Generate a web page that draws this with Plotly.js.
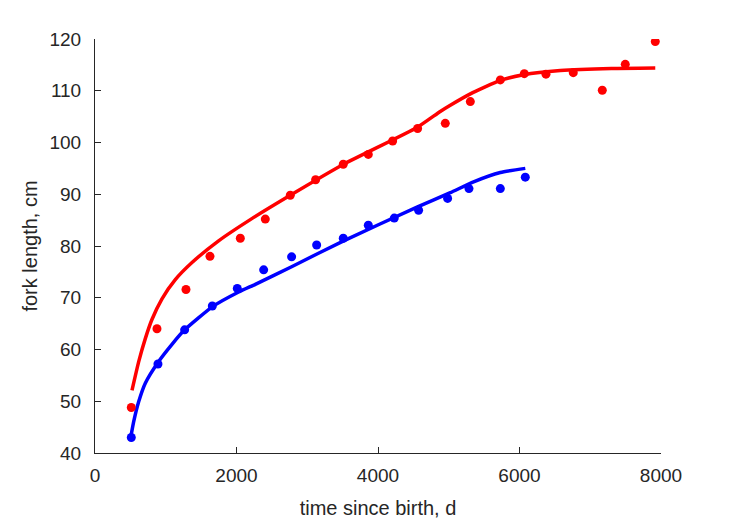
<!DOCTYPE html>
<html>
<head>
<meta charset="utf-8">
<script src="https://cdn.plot.ly/plotly-3.0.1.min.js"></script>
<style>html,body{margin:0;padding:0;background:#fff;}#chart{width:729px;height:521px;}</style>
</head>
<body>
<div id="chart"></div>
<script>
// Observed data (red series)
var redObsX = [513, 876, 1286, 1625, 2054, 2407, 2760, 3118, 3509, 3863, 4207, 4560, 4951, 5305, 5729, 6068, 6374, 6760, 7170, 7495, 7919];
var redObsY = [48.8, 64.0, 71.6, 78.0, 81.5, 85.2, 89.8, 92.8, 95.8, 97.7, 100.3, 102.7, 103.7, 107.9, 112.1, 113.3, 113.2, 113.5, 110.1, 115.1, 119.5];
// Observed data (blue series)
var blueObsX = [513, 890, 1267, 1658, 2011, 2384, 2779, 3133, 3509, 3863, 4230, 4574, 4984, 5286, 5729, 6082];
var blueObsY = [43.0, 57.2, 63.8, 68.4, 71.8, 75.4, 77.9, 80.2, 81.5, 84.0, 85.4, 86.9, 89.2, 91.1, 91.1, 93.3];
// Fitted curves
var redFitX = [523, 617, 711, 805, 947, 1135, 1371, 1747, 2195, 2760, 3514, 4551, 4880, 5022, 5305, 5729, 6058, 6577, 7300, 7919];
var redFitY = [52.1, 57.6, 62.1, 65.8, 69.8, 73.5, 76.8, 81.0, 85.1, 89.8, 95.8, 102.9, 106.0, 107.2, 109.4, 112.0, 113.1, 113.9, 114.3, 114.4];
var blueFitX = [513, 546, 617, 711, 890, 1088, 1267, 1653, 2030, 2266, 2779, 3514, 4551, 5022, 5351, 5729, 6082];
var blueFitY = [43.6, 46.0, 49.9, 53.5, 57.5, 61.0, 63.8, 68.2, 71.1, 72.6, 76.0, 81.0, 87.5, 90.3, 92.4, 94.2, 95.0];

var textColor = '#262626';
var traces = [
  {x: redFitX, y: redFitY, type: 'scatter', mode: 'lines', line: {color: '#ff0000', width: 3.5, shape: 'spline', smoothing: 0.5}, hoverinfo: 'skip'},
  {x: blueFitX, y: blueFitY, type: 'scatter', mode: 'lines', line: {color: '#0000ff', width: 3.5, shape: 'spline', smoothing: 0.5}, hoverinfo: 'skip'},
  {x: redObsX, y: redObsY, type: 'scatter', mode: 'markers', marker: {color: '#ff0000', size: 9}},
  {x: blueObsX, y: blueObsY, type: 'scatter', mode: 'markers', marker: {color: '#0000ff', size: 9}}
];
var layout = {
  width: 729, height: 521,
  margin: {l: 95, r: 68, t: 39, b: 68},
  paper_bgcolor: '#ffffff', plot_bgcolor: '#ffffff',
  showlegend: false,
  font: {family: 'Arial, Liberation Sans, sans-serif', color: textColor},
  xaxis: {
    range: [0, 8000], tickvals: [0, 2000, 4000, 6000, 8000],
    ticks: 'inside', ticklen: 6, tickcolor: textColor, tickwidth: 1,
    showline: true, linecolor: textColor, linewidth: 1, showgrid: false, zeroline: false,
    tickfont: {size: 19, color: textColor}, ticklabelstandoff: 5,
    title: {text: 'time since birth, d', font: {size: 20, color: textColor}, standoff: 16}
  },
  yaxis: {
    range: [40, 120], tickvals: [40, 50, 60, 70, 80, 90, 100, 110, 120],
    ticks: 'inside', ticklen: 6, tickcolor: textColor, tickwidth: 1,
    showline: true, linecolor: textColor, linewidth: 1, showgrid: false, zeroline: false,
    tickfont: {size: 19, color: textColor}, ticklabelstandoff: 9,
    title: {text: 'fork length, cm', font: {size: 20, color: textColor}, standoff: 6}
  }
};
Plotly.newPlot('chart', traces, layout, {displayModeBar: false, staticPlot: true});
</script>
</body>
</html>
